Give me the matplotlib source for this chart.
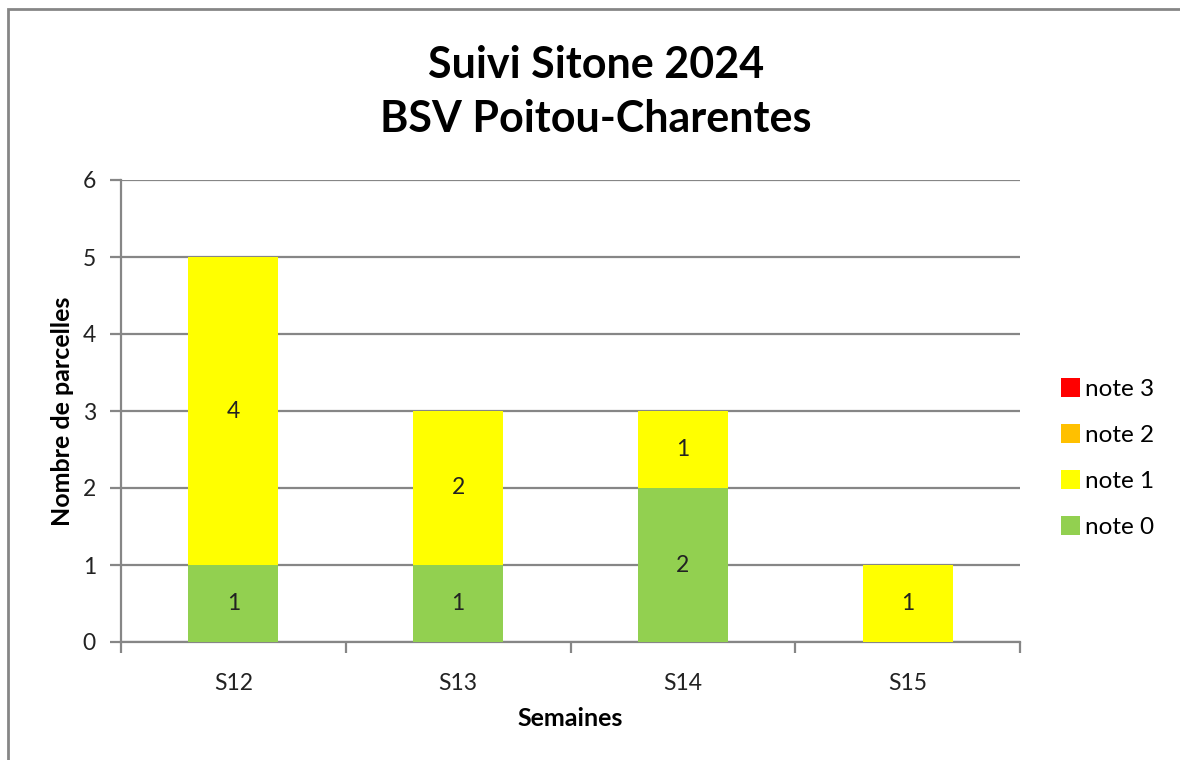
import matplotlib.pyplot as plt
from matplotlib.patches import Rectangle

# data
semaines = ["S12", "S13", "S14", "S15"]
note0 = [1, 1, 2, 0]
note1 = [4, 2, 1, 1]
note2 = [0, 0, 0, 0]
note3 = [0, 0, 0, 0]
couleurs = {"note 0": "#92D050", "note 1": "#FFFF00", "note 2": "#FFC000", "note 3": "#FF0000"}

plt.rcParams['font.family'] = ['Lato', 'DejaVu Sans']
grey = "#868686"

fig = plt.figure(figsize=(11.8, 7.6), dpi=100)
ax = fig.add_axes([121/1180, 118/760, 899/1180, 462/760])

# border of the chart area
fig.patches.append(Rectangle((8/1180, -0.02), 1.05, (760-9)/760 + 0.02, transform=fig.transFigure,
                             fill=False, edgecolor=grey, linewidth=2))

x = range(len(semaines))
series = [("note 0", note0), ("note 1", note1), ("note 2", note2), ("note 3", note3)]
bottom = [0]*len(semaines)
handles = {}
for name, vals in series:
    b = ax.bar(x, vals, width=0.4, bottom=bottom, color=couleurs[name], zorder=3, label=name)
    handles[name] = b
    for i, v in enumerate(vals):
        if v > 0:
            ax.text(i, bottom[i] + v/2, str(v), ha="center", va="center", fontsize=16.5, color="#222222", zorder=4)
    bottom = [bottom[i] + vals[i] for i in range(len(vals))]

ax.set_xlim(-0.5, 3.5)
ax.set_ylim(0, 6)
ax.set_yticks(range(0, 7))
ax.yaxis.grid(True, color=grey, linewidth=1.6, zorder=0)
ax.set_xticks(list(x))
ax.set_xticklabels(semaines)
ax.set_xticks([-0.5, 0.5, 1.5, 2.5, 3.5], minor=True)
ax.tick_params(axis="x", which="major", length=0, pad=22, labelsize=16.5, labelcolor="#222222")
ax.tick_params(axis="x", which="minor", length=8, width=1.6, color=grey, direction="out")
ax.tick_params(axis="y", length=8, width=1.6, color=grey, pad=10, labelsize=16.5, labelcolor="#222222")
for s in ["top", "right"]:
    ax.spines[s].set_visible(False)
for s in ["left", "bottom"]:
    ax.spines[s].set_color(grey)
    ax.spines[s].set_linewidth(1.6)

ax.set_xlabel("Semaines", fontsize=18, fontweight="bold", labelpad=10)
ax.set_ylabel("Nombre de parcelles", fontsize=18, fontweight="bold", labelpad=6)

fig.text(596/1180, 1 - 92/760, "Suivi Sitone 2024\nBSV Poitou-Charentes", ha="center", va="center",
         fontsize=31, fontweight="bold", linespacing=1.42, color="black")

order = ["note 3", "note 2", "note 1", "note 0"]
fig.legend([handles[n] for n in order], order, loc="center left", bbox_to_anchor=(1039/1180, 1 - 458/760),
           frameon=False, fontsize=17.5, handlelength=0.8, handleheight=0.8, handletextpad=0.2, labelspacing=1.0)

plt.savefig("out.png", dpi=100)
